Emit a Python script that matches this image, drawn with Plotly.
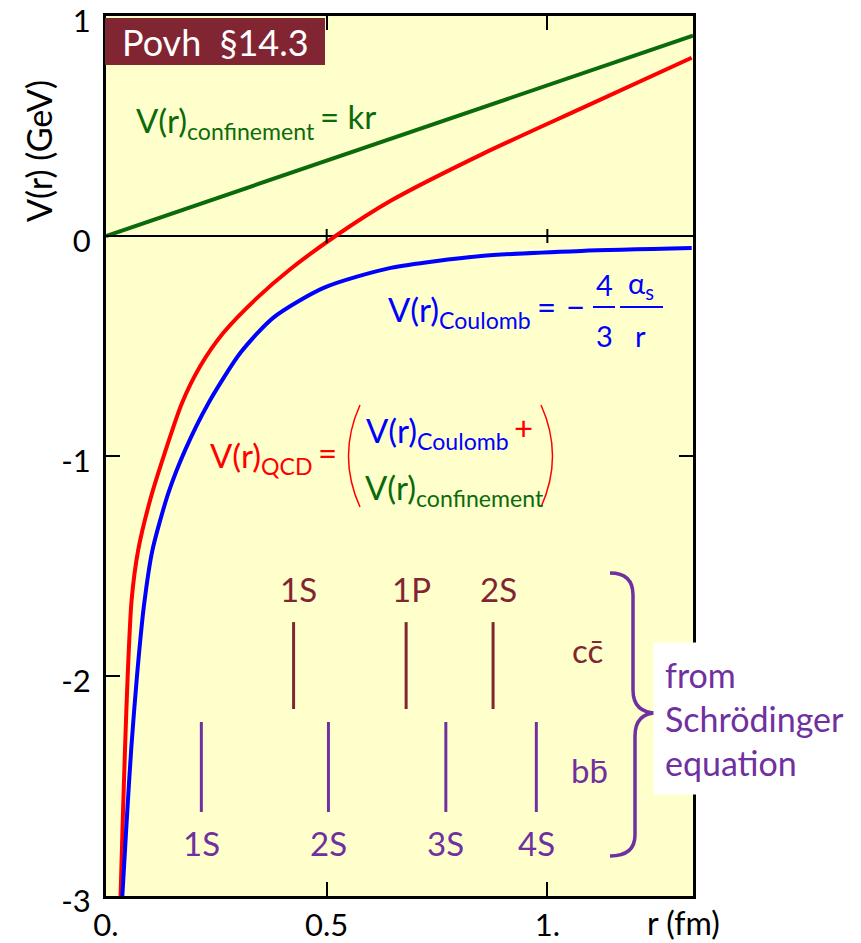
import plotly.graph_objects as go

# potentials: r in fm, V in GeV
r_conf = [0.0, 0.5, 1.0, 1.33]
v_conf = [0.0, 0.343, 0.685, 0.911]

r_qcd = [0.033, 0.038, 0.043, 0.049, 0.058, 0.073, 0.100, 0.130, 0.172, 0.214,
         0.266, 0.343, 0.418, 0.520, 0.645, 0.850, 1.077, 1.327]
v_qcd = [-3.0, -2.655, -2.336, -2.005, -1.655, -1.427, -1.200, -1.005, -0.760, -0.590,
         -0.440, -0.280, -0.150, 0.0, 0.160, 0.370, 0.580, 0.810]

r_coul = [0.037, 0.047, 0.057, 0.070, 0.086, 0.105, 0.141, 0.180, 0.232, 0.305,
          0.380, 0.493, 0.645, 0.850, 1.077, 1.327]
v_coul = [-3.0, -2.655, -2.336, -2.005, -1.680, -1.430, -1.170, -0.970, -0.760, -0.530,
          -0.370, -0.236, -0.145, -0.091, -0.068, -0.055]

# quarkonium states (mean radius) from Schroedinger equation
cc_states = ['1S', '1P', '2S']
cc_radius = [0.425, 0.68, 0.877]
cc_span = [-1.755, -2.15]
bb_states = ['1S', '2S', '3S', '4S']
bb_radius = [0.216, 0.504, 0.77, 0.975]
bb_span = [-2.209, -2.618]

x_ticks = [0, 0.5, 1.0]
x_tick_text = ['0.', '0.5', '1.']
y_ticks = [1, 0, -1, -2, -3]
y_tick_text = ['1', '0', '-1', '-2', '-3']

FONT = 'Lato'
GREEN = '#0b6b0b'
RED = '#ff0000'
BLUE = '#0000ff'
MAROON = '#822533'
PURPLE = '#7030a0'

# plot area in window pixels; the page body adds an 8px offset
OFF = 8
L, R, T, B = 106, 693, 16, 896
W, H = 861, 943


def paper(px, py):
    return (px - L) / (R - L), (B - py) / (B - T)


def pstr(px, py):
    x, y = paper(px, py)
    return '%.4f,%.4f' % (x, y)


fig = go.Figure()

fig.add_trace(go.Scatter(x=r_conf, y=v_conf, mode='lines', line=dict(color=GREEN, width=4)))
fig.add_trace(go.Scatter(x=r_qcd, y=v_qcd, mode='lines', line=dict(color=RED, width=4, shape='spline', smoothing=0.7)))
fig.add_trace(go.Scatter(x=r_coul, y=v_coul, mode='lines', line=dict(color=BLUE, width=4, shape='spline', smoothing=0.7)))


def level_trace(radii, span, color):
    xs, ys = [], []
    for r in radii:
        xs += [r, r, None]
        ys += [span[0], span[1], None]
    return go.Scatter(x=xs, y=ys, mode='lines', line=dict(color=color, width=3))


fig.add_trace(level_trace(cc_radius, cc_span, MAROON))
fig.add_trace(level_trace(bb_radius, bb_span, PURPLE))

for name, r in zip(cc_states, cc_radius):
    fig.add_annotation(x=r, y=cc_span[0] + 0.15, text=name, showarrow=False, xshift=5,
                       font=dict(family=FONT, size=33, color=MAROON))
for name, r in zip(bb_states, bb_radius):
    fig.add_annotation(x=r, y=bb_span[1] - 0.14, text=name, showarrow=False,
                       font=dict(family=FONT, size=33, color=PURPLE))


def note(text, px, py, color, size, xanchor='left', **kw):
    x, y = paper(px, py)
    fig.add_annotation(x=x, y=y, xref='paper', yref='paper', text=text, showarrow=False,
                       xanchor=xanchor, yanchor='middle',
                       font=dict(family=FONT, size=size, color=color), **kw)


# formulas
note('V(r)<sub>confinement</sub>', 134, 122, GREEN, 33)
note('= kr', 318, 116, GREEN, 33)
note('V(r)<sub>Coulomb</sub>', 386, 312, BLUE, 33)
note('=', 546, 306, BLUE, 33, xanchor='center')
note('−', 575, 306, BLUE, 33, xanchor='center')
note('4', 604, 284, BLUE, 29, xanchor='center')
note('3', 604, 335, BLUE, 29, xanchor='center')
note('α<sub>s</sub>', 641, 284, BLUE, 29, xanchor='center')
note('r', 640, 335, BLUE, 29, xanchor='center')
note('V(r)<sub>QCD</sub>', 208, 458, RED, 33)
note('=', 327, 452, RED, 33, xanchor='center')
note('V(r)<sub>Coulomb</sub>', 364, 432, BLUE, 33)
note('+', 523, 427, RED, 33, xanchor='center')
note('V(r)<sub>confinement</sub>', 363, 490, GREEN, 33)
note('cc\u0304', 587, 650, MAROON, 33, xanchor='center')
note('bb\u0304', 589, 770, PURPLE, 33, xanchor='center')
note('from<br>Schrödinger<br>equation', 653, 718, PURPLE, 34, align='left',
     bgcolor='white', borderpad=11)
note('Povh\u00a0\u00a0§14.3', 215, 42, 'white', 36, xanchor='center')
note('r (fm)', 645, 922, 'black', 32)
note('V(r) (GeV)', 38, 151, 'black', 34, xanchor='center', textangle=-90)

# decorative shapes
x0, y0 = paper(105, 65)
x1, y1 = paper(325, 18)
fig.add_shape(type='rect', xref='paper', yref='paper', x0=x0, y0=y0, x1=x1, y1=y1,
              fillcolor=MAROON, line=dict(width=0), layer='above')
for a, b in [((593, 307), (615, 307)), ((620, 307), (663, 307))]:
    xa, ya = paper(*a)
    xb, yb = paper(*b)
    fig.add_shape(type='line', xref='paper', yref='paper', x0=xa, y0=ya, x1=xb, y1=yb,
                  line=dict(color=BLUE, width=2))
fig.add_shape(type='path', xref='paper', yref='paper',
              path='M %s Q %s %s' % (pstr(360, 405), pstr(337, 456), pstr(360, 507)),
              line=dict(color=RED, width=1.5))
fig.add_shape(type='path', xref='paper', yref='paper',
              path='M %s Q %s %s' % (pstr(541, 405), pstr(564, 456), pstr(541, 507)),
              line=dict(color=RED, width=1.5))
fig.add_shape(type='path', xref='paper', yref='paper',
              path='M %s Q %s %s L %s Q %s %s Q %s %s L %s Q %s %s' % (
                  pstr(610, 573), pstr(633, 573), pstr(633, 595), pstr(633, 690),
                  pstr(633, 713), pstr(657, 713), pstr(635, 713), pstr(635, 736),
                  pstr(635, 835), pstr(635, 856), pstr(610, 856)),
              line=dict(color=PURPLE, width=3.5))
for xt in x_ticks[1:]:
    fig.add_shape(type='line', x0=xt, x1=xt, y0=-0.032, y1=0.032, line=dict(color='black', width=2))

axis_style = dict(showline=True, linecolor='black', linewidth=3, mirror='allticks',
                  ticks='inside', ticklen=14, tickwidth=2, tickcolor='black',
                  showgrid=False, automargin=False, ticklabeloverflow='allow',
                  tickfont=dict(family=FONT, size=31, color='black'))

fig.update_layout(
    width=W - OFF, height=H - OFF, showlegend=False,
    margin=dict(l=L - OFF, r=W - R, t=T - OFF, b=H - B),
    paper_bgcolor='white', plot_bgcolor='#ffffcc',
    xaxis=dict(range=[0, 1.33], tickvals=x_ticks, ticktext=x_tick_text, zeroline=False,
               ticklabelstandoff=0, **axis_style),
    yaxis=dict(range=[-3, 1], tickvals=y_ticks, ticktext=y_tick_text, zeroline=True,
               zerolinecolor='black', zerolinewidth=2, ticklabelstandoff=6,
               ticklabelshift=5, **axis_style),
)

fig.write_html("out.html")
